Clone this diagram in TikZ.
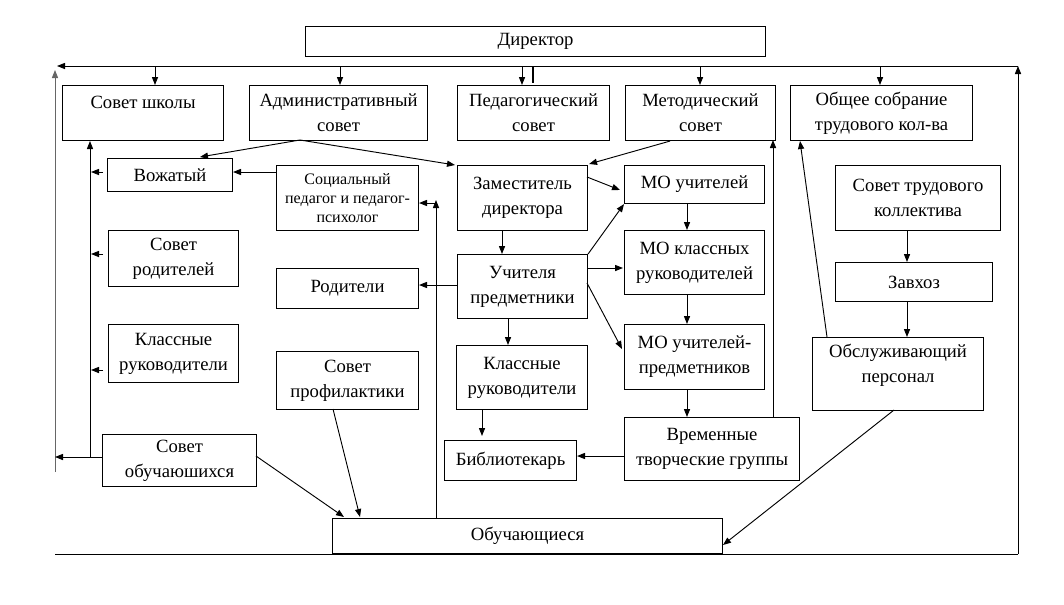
\documentclass[tikz,border=0pt]{standalone}
\usepackage{fontspec}
\setmainfont{Liberation Serif}
\usetikzlibrary{arrows.meta,calc}
\tikzset{
  box/.style={draw, line width=0.8pt, inner sep=0pt, align=center,
    font=\fontsize{14pt}{18.75pt}\selectfont},
  smallbox/.style={box, font=\fontsize{12pt}{14.5pt}\selectfont},
  arr/.style={line width=0.7pt, -{Triangle[length=6pt,width=4.6pt]}},
  ln/.style={line width=0.7pt},
}
\newcommand\bx[7][box]{\node[#1, anchor=north west,
  minimum width={(#5-#3)*0.75pt}, minimum height={(#6-#4)*0.75pt}] (#2) at (#3,#4) {#7};}
\newcommand\dropdepth[1]{\rule[-#1]{0pt}{0pt}}
\begin{document}
\begin{tikzpicture}[x=0.75pt,y=-0.75pt]
\useasboundingbox (0,0) rectangle (1064,604);
% boxes
\bx{dir}{305}{26}{765}{56}{Директор}
\bx{ss}{62}{85}{223}{140}{Совет школы\dropdepth{16pt}}
\bx{adm}{249}{85}{427}{140}{Административный\\совет}
\bx{ped}{457}{85}{609}{140}{Педагогический\\совет}
\bx{met}{625}{85}{775}{140}{Методический\\совет}
\bx{obs}{790}{85}{972}{140}{Общее собрание\\трудового кол-ва}
\bx{vzh}{107}{158}{232}{191}{Вожатый}
\bx[smallbox]{soc}{276}{165}{418}{230}{Социальный\\педагог и педагог-\\психолог}
\bx{zam}{457}{165}{587}{230}{Заместитель\\директора}
\bx{mou}{624}{165}{764}{203}{МО учителей}
\bx{stk}{835}{165}{1000}{230}{Совет трудового\\коллектива}
\bx{sr}{108}{230}{238}{286}{Совет\\родителей}
\bx{mok}{624}{230}{764}{294}{МО классных\\руководителей}
\bx{up}{457}{254}{587}{318}{Учителя\\предметники}
\bx{zav}{835}{262}{992}{301}{Завхоз}
\bx{rod}{276}{268}{418}{308}{Родители}
\bx{krl}{108}{324}{238}{382}{Классные\\руководители}
\bx{moup}{624}{324}{764}{389}{МО учителей-\\предметников}
\bx{osp}{812}{337}{983}{410}{Обслуживающий\\персонал\dropdepth{16pt}}
\bx{krm}{456}{345}{587}{409}{Классные\\руководители}
\bx{sprof}{276}{351}{418}{409}{Совет\\профилактики}
\bx{vtg}{624}{417}{799}{480}{Временные\\творческие группы}
\bx{sob}{102}{434}{256}{486}{Совет\\обучаюшихся}
\bx{bib}{444}{440}{576}{480}{Библиотекарь}
\bx{obu}{332}{518}{722}{553}{Обучающиеся}
% outer frame
\coordinate (tl) at (55,66);
\coordinate (tr) at (1018,66);
\coordinate (br) at (1018,554);
\coordinate (bl) at (55,554);
\draw[ln] (bl) -- (br);
\draw[arr] (br) -- (tr);
\draw[arr] (tr) -- ($(tl)+(2,0)$);
\draw[arr, black!60] (55,472) -- (55,70);
\draw[line width=1.6pt] (533,66) -- (533,83);
% director line to top boxes
\draw[arr] (155,66) -- ($(ss.north west)+(93,0)$);
\draw[arr] (340,66) -- ($(adm.north west)+(91,0)$);
\draw[arr] (522,66) -- ($(ped.north west)+(65,0)$);
\draw[arr] (700,66) -- ($(met.north west)+(75,0)$);
\draw[arr] (880,66) -- ($(obs.north west)+(90,0)$);
% left column
\draw[arr] (sob.west |- 0,457) -- (55,457);
\draw[arr] (90,457) -- ($(ss.south west)+(28,0)$);
\draw[arr] (103,172) -- (91,172);
\draw[arr] (103,254) -- (91,254);
\draw[arr] (103,370) -- (91,370);
% administrative council
\coordinate (ap) at (300,140);
\draw[arr] (ap) -- (200,157);
\draw[arr] (ap) -- ($(zam.north west)+(-2,0)$);
\draw[arr] ($(met.south west)+(45,0)$) -- ($(zam.north east)+(1,-1)$);
\draw[arr] (soc.west |- 0,172) -- (vzh.east |- 0,172);
\draw[arr] (436,518) -- (436,200);
\draw[arr] (436,203) -- (soc.east |- 0,203);
% middle
\draw[arr] (502,230) -- (502,254);
\draw[arr] (587,177) -- (620,190);
\draw[arr] (up.north east) -- (mou.south west);
\draw[arr] (587,268) -- (623,268);
\draw[arr] (587,283) -- (622,349);
\draw[arr] (up.west |- 0,285) -- (rod.east |- 0,285);
\draw[arr] (508,318) -- (508,345);
\draw[arr] (482,409) -- (482,436);
\draw[arr] (vtg.west |- 0,456) -- (bib.east |- 0,456);
\draw[arr] (687,203) -- (687,230);
\draw[arr] (687,294) -- (687,324);
\draw[arr] (687,389) -- (687,417);
\draw[arr] (773,417) -- (773,140);
% right
\draw[arr] (907,230) -- (907,262);
\draw[arr] (907,301) -- (907,337);
\draw[arr] (827,337) -- (800,141);
\draw[arr] (894,410) -- (723,545);
% bottom
\draw[arr] (256,456) -- (344,517);
\draw[arr] (333,409) -- (360,517);
\end{tikzpicture}
\end{document}
